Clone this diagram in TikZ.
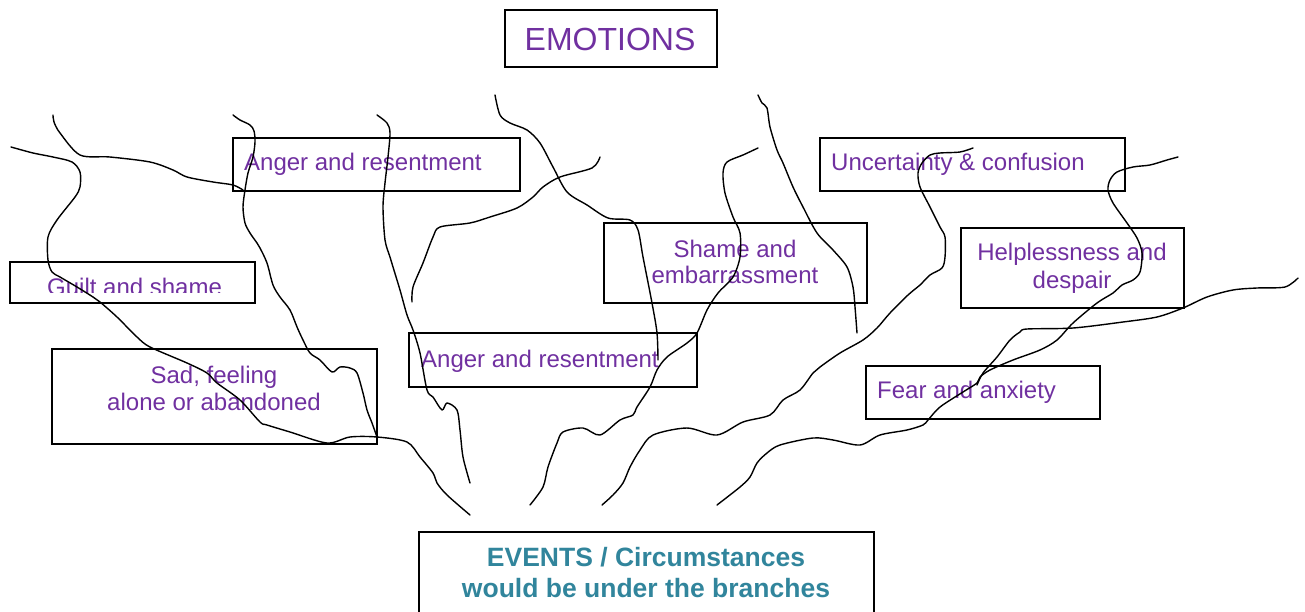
\documentclass[tikz,border=0pt]{standalone}
\usepackage{fontspec}
\setmainfont{Liberation Sans}
\definecolor{emopurple}{RGB}{112,48,160}
\definecolor{evteal}{RGB}{49,133,156}
\begin{document}
\begin{tikzpicture}[x=1pt,y=-1pt,
  box/.style={draw=black,line width=1.5pt,inner sep=0pt},
  emotext/.style={text=emopurple,font=\fontsize{24}{27}\selectfont,inner sep=0pt},
  branch/.style={draw=black,line width=1.4pt,line join=round,line cap=round}]
\useasboundingbox (0,0) rectangle (1305,612);
% boxes
\node[box,line width=2pt,minimum width=212pt,minimum height=57pt] (emo) at (611,38.5) {};
\node[box,minimum width=287pt,minimum height=53pt] (ang1) at (376.5,164.5) {};
\node[box,minimum width=245pt,minimum height=41pt] (guilt) at (132.5,282.5) {};
\node[box,minimum width=325pt,minimum height=95pt] (sad) at (214.5,396.5) {};
\node[box,minimum width=288pt,minimum height=54pt] (ang2) at (553,360) {};
\node[box,minimum width=263pt,minimum height=80pt] (shame) at (735.5,263) {};
\node[box,minimum width=305pt,minimum height=53pt] (unc) at (972.5,164.5) {};
\node[box,minimum width=223pt,minimum height=80pt] (help) at (1072.5,268) {};
\node[box,minimum width=234pt,minimum height=53pt] (fear) at (983,392.5) {};
\node[box,minimum width=455pt,minimum height=90pt] (ev) at (646.5,577) {};
% texts
\node[text=emopurple,font=\fontsize{32}{36}\selectfont,inner sep=0pt,anchor=base] (emot) at (610,51) {EMOTIONS};
\node[emotext,anchor=base west] (ang1t) at (244,171) {Anger and resentment};
\begin{scope}
\clip (10,262) rectangle (255,292);
\node[emotext,anchor=base west] (guiltt) at (47,295) {Guilt and shame};
\end{scope}
\node[emotext,anchor=base] (sadt1) at (214,383) {Sad, feeling};
\node[emotext,anchor=base] (sadt2) at (214,410) {alone or abandoned};
\node[emotext,anchor=base west] (ang2t) at (421,367) {Anger and resentment};
\node[emotext,anchor=base] (shamet1) at (735,257) {Shame and};
\node[emotext,anchor=base] (shamet2) at (735,283.5) {embarrassment};
\node[emotext,anchor=base west] (unct) at (831,170.5) {Uncertainty \& confusion};
\node[emotext,anchor=base] (helpt1) at (1072,260.5) {Helplessness and};
\node[emotext,anchor=base] (helpt2) at (1072,288.5) {despair};
\node[emotext,anchor=base west] (feart) at (877,398) {Fear and anxiety};
\node[text=evteal,font=\fontsize{26.5}{30}\selectfont\bfseries,inner sep=0pt,anchor=base] (evt1) at (646,566) {EVENTS / Circumstances};
\node[text=evteal,font=\fontsize{26.5}{30}\selectfont\bfseries,inner sep=0pt,anchor=base] (evt2) at (646,597) {would be under the branches};
% branches
\draw[branch] plot[smooth,tension=0.5] coordinates {(11,147) (33,153) (53,157) (72,162) (80,172) (80,187) (75,197) (57,220) (48,237) (48,260) (52,272) (60,277) (77,287) (93,297) (100,302) (117,317) (137,337) (150,347) (187,363) (207,373) (217,383) (240,400) (260,422) (267,425) (290,432) (327,443) (350,437) (377,437) (407,442) (420,457) (433,473) (437,483) (447,495) (470,515)};
\draw[branch] plot[smooth,tension=0.5] coordinates {(53,115) (54,122) (60,133) (80,155) (110,157) (150,162) (173,170) (187,177) (213,182) (233,185) (243,190)};
\draw[branch] plot[smooth,tension=0.5] coordinates {(233,115) (240,120) (250,125) (254,131) (255,142) (253,157) (248,173) (245,190) (243,207) (245,223) (250,233) (257,243) (260,248) (267,263) (273,285) (280,297) (290,310) (297,327) (303,340) (310,353) (320,360) (332,372) (340,367) (350,368) (357,373) (363,393) (367,410) (372,423) (377,437)};
\draw[branch] plot[smooth,tension=0.5] coordinates {(377,115) (387,123) (390,133) (388,157) (385,183) (383,207) (385,240) (390,257) (393,267) (400,290) (407,315) (413,330) (420,353) (427,390) (433,397) (442,410) (447,403) (457,410) (460,430) (463,457) (470,483)};
\draw[branch] plot[smooth,tension=0.5] coordinates {(412,302) (413,287) (423,263) (433,237) (440,227) (470,223) (490,217) (517,208) (533,197) (543,187) (560,177) (592,168) (600,157)};
\draw[branch] plot[smooth,tension=0.5] coordinates {(495,95) (500,115) (510,123) (527,130) (540,143) (553,167) (567,192) (587,205) (608,218) (630,220) (638,230) (643,257) (652,303) (657,333) (658,360)};
\draw[branch] plot[smooth,tension=0.5] coordinates {(758,148) (743,155) (727,162) (723,173) (725,193) (733,217) (740,233) (740,257) (733,277) (718,293) (707,310) (697,333) (687,343) (667,357) (657,370) (650,387) (637,407) (633,415) (620,420) (600,435) (583,428) (563,432) (557,443) (548,467) (543,487) (530,505)};
\draw[branch] plot[smooth,tension=0.5] coordinates {(758,95) (762,103) (767,108) (770,127) (777,150) (783,163) (793,187) (803,207) (817,233) (833,250) (847,267) (853,287) (855,307) (857,333)};
\draw[branch] plot[smooth,tension=0.5] coordinates {(973,148) (960,152) (940,153) (930,155) (922,163) (918,173) (920,187) (930,207) (940,227) (945,237) (945,257) (942,268) (930,275) (920,285) (908,295) (890,313) (877,328) (863,340) (840,353) (820,367) (813,373) (800,390) (783,400) (770,415) (743,422) (717,435) (687,428) (653,435) (640,450) (630,467) (623,483) (613,495) (602,505)};
\draw[branch] plot[smooth,tension=0.5] coordinates {(1178,157) (1167,160) (1150,165) (1133,167) (1117,172) (1110,180) (1108,190) (1113,203) (1127,223) (1137,238) (1142,253) (1140,272) (1133,280) (1122,285) (1113,293) (1097,303) (1073,323) (1057,340) (1040,350) (1013,360) (990,370) (980,377) (977,383) (963,392) (940,407) (928,420) (923,425) (907,430) (880,435) (860,445) (833,440) (813,438) (780,445) (767,453) (757,463) (750,477) (740,487) (717,505)};
\draw[branch] plot[smooth,tension=0.5] coordinates {(1298,278) (1285,287) (1257,288) (1233,290) (1207,297) (1183,308) (1157,317) (1123,322) (1073,328) (1027,329) (1020,332) (1010,340) (997,357) (983,373) (977,385)};
\end{tikzpicture}
\end{document}
